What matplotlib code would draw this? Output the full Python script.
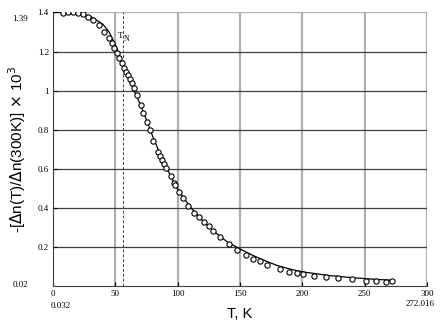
import numpy as np
import matplotlib.pyplot as plt

# measured points (circles)
T_meas = [8, 12, 16, 20, 24, 28, 32, 37, 41, 45, 47, 49, 51, 53, 55, 57,
          58.6, 60.5, 61.8, 63.4, 65.3, 67.2, 70.6, 72, 75.2, 77.9, 80.5,
          84.5, 85.9, 87.7, 89.4, 90.7, 94.4, 97.4, 98, 101, 104.6, 108.6,
          113.4, 117.4, 121.4, 125, 128.7, 133.8, 141, 147.4, 154.6, 160.8,
          166, 172, 182, 189.7, 195.6, 200.4, 209, 218.8, 229, 239.7, 251,
          259, 267, 272]
dn_meas = [1.396, 1.40, 1.40, 1.396, 1.391, 1.379, 1.362, 1.336, 1.302, 1.268,
           1.243, 1.217, 1.191, 1.166, 1.14, 1.115, 1.097, 1.08, 1.058, 1.037,
           1.012, 0.978, 0.927, 0.887, 0.841, 0.799, 0.744, 0.688, 0.666,
           0.645, 0.625, 0.602, 0.563, 0.529, 0.517, 0.483, 0.449, 0.41,
           0.372, 0.352, 0.329, 0.307, 0.283, 0.249, 0.215, 0.184, 0.159,
           0.138, 0.13, 0.108, 0.087, 0.073, 0.068, 0.061, 0.051, 0.048,
           0.043, 0.036, 0.026, 0.026, 0.022, 0.026]

# fitted curve
T_fit = [0, 10, 20, 30, 40, 45, 50, 55, 60, 65, 70, 75, 80, 85, 90, 95, 100,
         110, 120, 130, 140, 150, 160, 170, 180, 190, 200, 220, 240, 260, 272]
dn_fit = [1.40, 1.40, 1.397, 1.38, 1.34, 1.30, 1.235, 1.155, 1.075, 1.0,
          0.93, 0.85, 0.765, 0.69, 0.62, 0.555, 0.495, 0.405, 0.335, 0.275,
          0.225, 0.19, 0.158, 0.13, 0.105, 0.087, 0.073, 0.055, 0.043, 0.034,
          0.03]

T_N = 56

fig = plt.figure(figsize=(4.44, 3.2), dpi=100)
ax = fig.add_axes([0.1194, 0.106, 0.8423, 0.855])

ax.set_xlim(0, 300)
ax.set_ylim(0, 1.4)
ax.set_xticks([0, 50, 100, 150, 200, 250, 300])
ax.set_yticks([0.2, 0.4, 0.6, 0.8, 1.0, 1.2, 1.4])
ax.set_yticklabels(['0.2', '0.4', '0.6', '0.8', '1', '1.2', '1.4'])

for x in [50, 100, 150, 200, 250, 300]:
    ax.axvline(x, color='#b0b0b0', lw=1.6, zorder=1)
for y in [0.2, 0.4, 0.6, 0.8, 1.0, 1.2]:
    ax.axhline(y, color='#404040', lw=0.9, zorder=1)
ax.axhline(1.4, color='#b0b0b0', lw=1.6, zorder=1)

ax.axvline(T_N, color='#404040', lw=0.7, ls=(0, (3, 2)), zorder=2)
ax.text(T_N - 4, 1.27, 'T', fontsize=6.5, family='Liberation Serif')
ax.text(T_N + 0.5, 1.255, 'N', fontsize=5.5, family='Liberation Serif')

ax.plot(T_fit, dn_fit, color='black', lw=0.9, zorder=3)
ax.plot(T_meas, dn_meas, 'o', mfc='white', mec='black', ms=3.8, mew=0.8,
        zorder=4)

for s in ['top', 'right']:
    ax.spines[s].set_visible(False)
ax.spines['left'].set_color('#404040')
ax.spines['bottom'].set_color('#404040')
ax.tick_params(direction='in', length=3, width=0.8, labelsize=6.5, pad=3)
for lab in ax.get_xticklabels() + ax.get_yticklabels():
    lab.set_family('Liberation Serif')

ax.set_xlabel('T, K', fontsize=10.5, labelpad=6, family='Liberation Sans')
ax.set_ylabel(r'-[$\Delta$n(T)/$\Delta$n(300K)] $\times$ 10$^3$', fontsize=11,
              labelpad=7, family='Liberation Sans')

# corner limit labels
fig.text(20 / 444, 1 - 19 / 320, '1.39', fontsize=6.5,
         family='Liberation Serif', ha='center', va='center')
fig.text(20 / 444, 1 - 285 / 320, '0.02', fontsize=6.5,
         family='Liberation Serif', ha='center', va='center')
fig.text(61 / 444, 1 - 306 / 320, '0.032', fontsize=6.5,
         family='Liberation Serif', ha='center', va='center')
fig.text(420 / 444, 1 - 304 / 320, '272.016', fontsize=6.5,
         family='Liberation Serif', ha='center', va='center')

fig.savefig('out.png', dpi=100)
